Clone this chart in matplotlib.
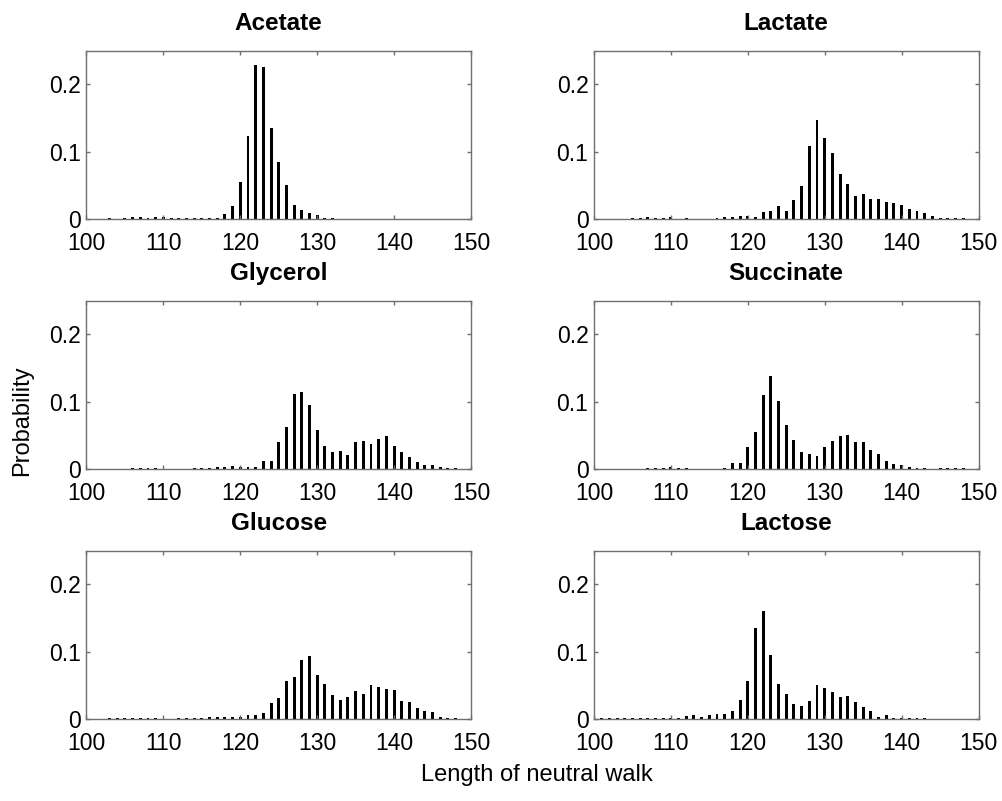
import numpy as np
import matplotlib
matplotlib.use('Agg')
import matplotlib.pyplot as plt

plt.rcParams['font.family'] = ['Liberation Sans', 'DejaVu Sans']

# probabilities per walk length, each panel starts at its own length
acetate_start = 103
acetate = [0.0015, 0, 0.002, 0.003, 0.003, 0.0025, 0.003, 0.003, 0.0015, 0.0015,
           0.002, 0.0015, 0.0015, 0.0015, 0.002, 0.008, 0.02, 0.055, 0.123, 0.228,
           0.225, 0.135, 0.085, 0.051, 0.021, 0.014, 0.009, 0.006, 0.002, 0.002]

lactate_start = 105
lactate = [0.002, 0.002, 0.004, 0.002, 0.002, 0.003, 0, 0.0015, 0, 0,
           0, 0.002, 0.003, 0.003, 0.005, 0.005, 0.004, 0.011, 0.013, 0.019,
           0.013, 0.028, 0.049, 0.108, 0.147, 0.121, 0.099, 0.067, 0.052, 0.034,
           0.038, 0.030, 0.030, 0.026, 0.024, 0.021, 0.015, 0.013, 0.009, 0.005,
           0.002, 0.0015, 0.0015, 0.0015]

glycerol_start = 106
glycerol = [0.0015, 0.0015, 0.0015, 0.0015, 0, 0, 0, 0, 0.0015, 0.002,
            0.002, 0.003, 0.003, 0.005, 0.004, 0.003, 0.003, 0.013, 0.012, 0.041,
            0.063, 0.112, 0.115, 0.095, 0.058, 0.035, 0.026, 0.027, 0.021, 0.041,
            0.042, 0.038, 0.045, 0.050, 0.035, 0.026, 0.018, 0.011, 0.007, 0.007,
            0.003, 0.0015, 0.0015]

succinate_start = 107
succinate = [0.0015, 0.002, 0.002, 0.003, 0.002, 0.0015, 0, 0, 0, 0,
             0.002, 0.010, 0.010, 0.033, 0.055, 0.110, 0.139, 0.101, 0.066, 0.044,
             0.025, 0.022, 0.020, 0.033, 0.042, 0.049, 0.051, 0.040, 0.040, 0.029,
             0.022, 0.013, 0.008, 0.007, 0.003, 0.002, 0.0015, 0, 0.0015, 0.0015,
             0.0015, 0.0015]

glucose_start = 103
glucose = [0.0015, 0.002, 0.0015, 0.0015, 0.0015, 0.0015, 0.0015, 0, 0, 0.0015,
           0.002, 0.002, 0.002, 0.003, 0.003, 0.003, 0.004, 0.004, 0.007, 0.007,
           0.010, 0.024, 0.031, 0.057, 0.063, 0.088, 0.094, 0.065, 0.053, 0.036,
           0.028, 0.033, 0.042, 0.038, 0.051, 0.048, 0.045, 0.044, 0.027, 0.025,
           0.017, 0.013, 0.011, 0.003, 0.0015, 0.0015]

lactose_start = 100
lactose = [0.0015, 0.0015, 0.0015, 0.0015, 0.0015, 0.0015, 0.0015, 0.0015, 0.0015, 0.0015,
           0.002, 0.002, 0.005, 0.007, 0.004, 0.007, 0.008, 0.008, 0.012, 0.028,
           0.057, 0.136, 0.161, 0.096, 0.053, 0.038, 0.022, 0.020, 0.027, 0.051,
           0.047, 0.040, 0.033, 0.034, 0.025, 0.018, 0.013, 0.004, 0.006, 0.002,
           0.002, 0.0015, 0.0015, 0.0015]

panels = [
    ('Acetate', acetate_start, acetate),
    ('Lactate', lactate_start, lactate),
    ('Glycerol', glycerol_start, glycerol),
    ('Succinate', succinate_start, succinate),
    ('Glucose', glucose_start, glucose),
    ('Lactose', lactose_start, lactose),
]

fig = plt.figure(figsize=(10.03, 8.01), dpi=100)

lefts = [0.0862, 0.5922]
bottoms = [0.7262, 0.4141, 0.102]
w, h = 0.3834, 0.2106
frame = '#707070'

for n, (name, start, vals) in enumerate(panels):
    row, col = n // 2, n % 2
    ax = fig.add_axes([lefts[col], bottoms[row], w, h])
    x = np.arange(start, start + len(vals))
    ax.bar(x, vals, width=0.38, color='black', linewidth=0)
    ax.set_xlim(100, 150)
    ax.set_ylim(0, 0.25)
    ax.set_xticks([100, 110, 120, 130, 140, 150])
    ax.set_yticks([0, 0.1, 0.2])
    ax.set_yticklabels(['0', '0.1', '0.2'])
    ax.tick_params(direction='in', top=True, right=True, length=3,
                   labelsize=16.5, color=frame, width=1)
    ax.tick_params(axis='x', pad=9)
    ax.tick_params(axis='y', pad=4)
    for s in ax.spines.values():
        s.set_color(frame)
        s.set_linewidth(1)
    ax.set_title(name, fontsize=17.5, fontweight='bold', pad=15)

fig.text(0.022, 0.475, 'Probability', rotation=90, fontsize=17,
         ha='center', va='center')
fig.text(0.535, 0.033, 'Length of neutral walk', fontsize=17,
         ha='center', va='center')

fig.savefig('out.png', dpi=100)
